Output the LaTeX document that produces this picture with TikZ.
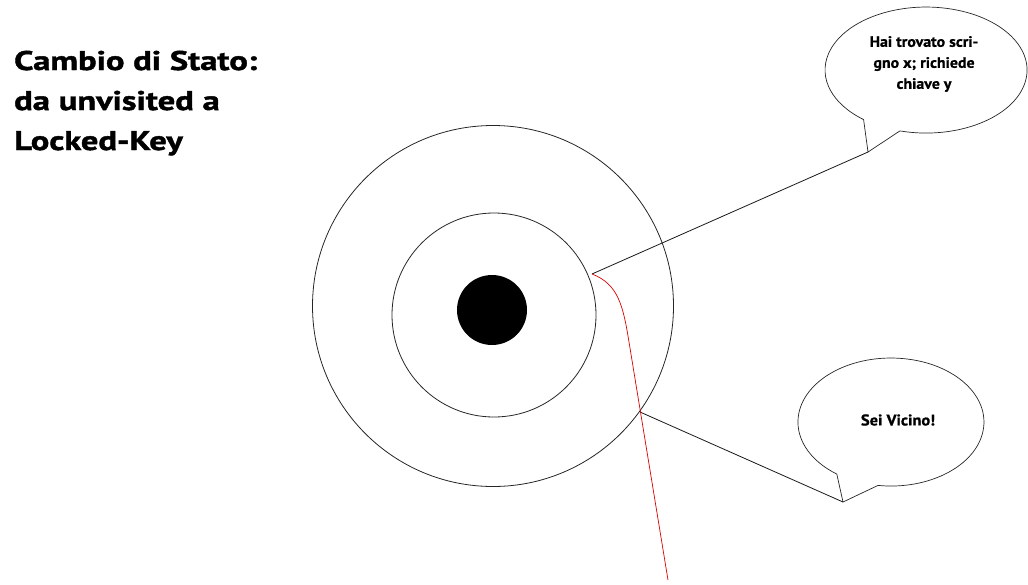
\documentclass[tikz,border=0pt]{standalone}
\usepackage{fontspec}
\setmainfont{PT Sans}
\newfontfamily\titlefont[FakeStretch=1.28,FakeBold=1.6]{PT Sans Bold}
\newfontfamily\bubblefont[FakeStretch=1.06,FakeBold=0.8]{PT Sans Bold}
\begin{document}
\begin{tikzpicture}[x=1pt,y=1pt,
  ring/.style={draw=black!85, line width=0.8pt},
  bubble/.style={draw=black!85, line width=0.7pt},
  link/.style={draw=black!90, line width=0.8pt},
  redpath/.style={draw=red!85!black, line width=0.7pt},
  title/.style={font=\titlefont\fontsize{27}{40}\selectfont, align=left, inner sep=0pt},
  btext/.style={font=\bubblefont\fontsize{15}{21}\selectfont, align=center, inner sep=0pt}]
\useasboundingbox (0,0) rectangle (1028,-584);
% title
\node[title, anchor=base west] (title) at (14,-150) {Cambio di Stato:\\da unvisited a\\Locked-Key};
% rings
\node[ring, circle, minimum size=361pt, inner sep=0pt] (outer) at (493,-306) {};
\node[ring, circle, minimum size=204pt, inner sep=0pt] (inner) at (494,-315) {};
\node[circle, fill=black, minimum size=70pt, inner sep=0pt] (dot) at (492,-310) {};
% bubble 1
\draw[bubble] (899.9,-130.9) arc[start angle=255, end angle=591.8, x radius=101pt, y radius=63pt]
   -- (868,-152) coordinate (tip1) -- cycle;
\node[btext] (b1) at (924,-64) {Hai trovato scri-\\gno x; richiede\\chiave y};
% bubble 2
\draw[bubble] (878,-485.4) arc[start angle=262, end angle=594.4, x radius=93pt, y radius=64pt]
   -- (843,-502) coordinate (tip2) -- cycle;
\node[btext, font=\bubblefont\fontsize{15.5}{21}\selectfont] (b2) at (898,-420) {Sei Vicino!};
% connectors
\coordinate (innerpt) at (592,-274);
\coordinate (outerpt) at (640,-412);
\coordinate (redend) at (668,-580);
\draw[link] (innerpt) -- (tip1);
\draw[link] (outerpt) -- (tip2);
\draw[redpath] (innerpt) .. controls (618,-284) and (623,-305) .. (629,-342) -- (redend);
\end{tikzpicture}
\end{document}
